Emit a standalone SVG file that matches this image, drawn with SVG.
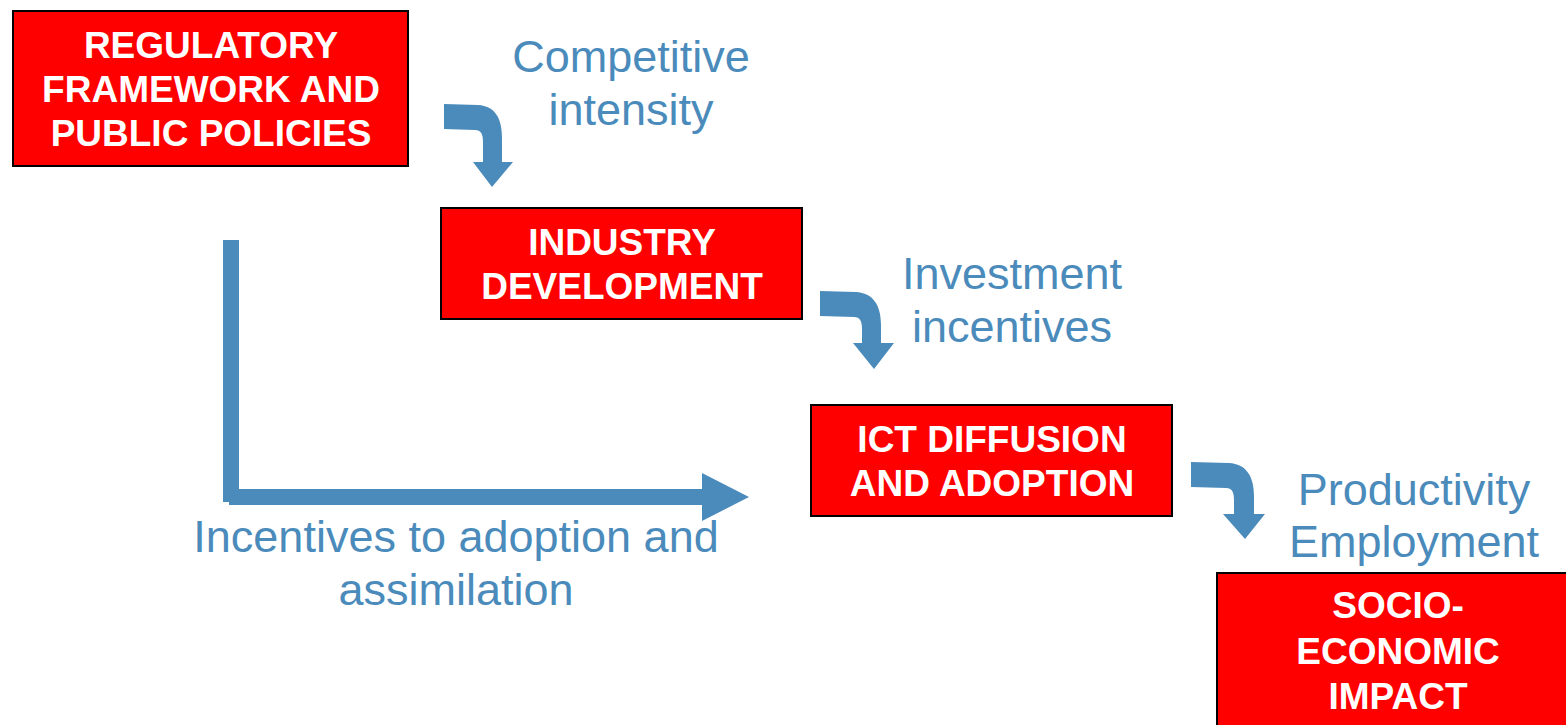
<svg xmlns="http://www.w3.org/2000/svg" width="1566" height="725" viewBox="0 0 1566 725">
<style>
.box{fill:#ff0000;stroke:#000;stroke-width:2}
.bt{font-family:"Liberation Sans",Arial,sans-serif;font-weight:bold;font-size:37px;fill:#fff;text-anchor:middle}
.lb{font-family:"Liberation Sans",Arial,sans-serif;font-size:45px;fill:#4a8bbb;text-anchor:middle}
.ar{fill:#4a8bbb}
</style>
<rect width="1566" height="725" fill="#fff"/>
<g id="connectors">
<path class="ar" d="M444,104 L478,105 C495,106 502,118 502,138 L502,162 L513,162 L492,187 L473,162 L483,162 L483,142 C483,134 481,130 475,130 L444,129 Z"/>
<path class="ar" d="M820,291 L856,292 C873,293 881,305 881,325 L881,343 L894,343 L874,369 L853,343 L862,343 L862,329 C862,321 860,317 854,317 L820,316 Z"/>
<path class="ar" d="M1191,462 L1229,463 C1246,464 1254,476 1254,496 L1254,514 L1265,514 L1245,539 L1223,514 L1234,514 L1234,500 C1234,492 1232,488 1226,488 L1191,487 Z"/>
<rect class="ar" x="223" y="240" width="16" height="262"/>
<path class="ar" d="M229,489 L702,489 L702,473 L749,497 L702,521 L702,505 L229,505 Z"/>
</g>
<g id="regulatory">
<rect class="box" x="13" y="11" width="395" height="155"/>
<text class="bt" x="211" y="58">REGULATORY</text>
<text class="bt" x="211" y="102">FRAMEWORK AND</text>
<text class="bt" x="211" y="146">PUBLIC POLICIES</text>
</g>
<g id="industry">
<rect class="box" x="441" y="208" width="361" height="111"/>
<text class="bt" x="622" y="255">INDUSTRY</text>
<text class="bt" x="622" y="299">DEVELOPMENT</text>
</g>
<g id="ict">
<rect class="box" x="811" y="405" width="361" height="111"/>
<text class="bt" x="992" y="452">ICT DIFFUSION</text>
<text class="bt" x="992" y="496">AND ADOPTION</text>
</g>
<g id="socio">
<rect class="box" x="1217" y="573" width="360" height="160"/>
<text class="bt" x="1398" y="618">SOCIO-</text>
<text class="bt" x="1398" y="664">ECONOMIC</text>
<text class="bt" x="1398" y="709">IMPACT</text>
</g>
<g id="labels">
<text class="lb" x="631" y="72">Competitive</text>
<text class="lb" x="631" y="125">intensity</text>
<text class="lb" x="1012" y="289">Investment</text>
<text class="lb" x="1012" y="342">incentives</text>
<text class="lb" x="1414" y="505">Productivity</text>
<text class="lb" x="1414" y="557">Employment</text>
<text class="lb" x="456" y="552">Incentives to adoption and</text>
<text class="lb" x="456" y="605">assimilation</text>
</g>
</svg>
